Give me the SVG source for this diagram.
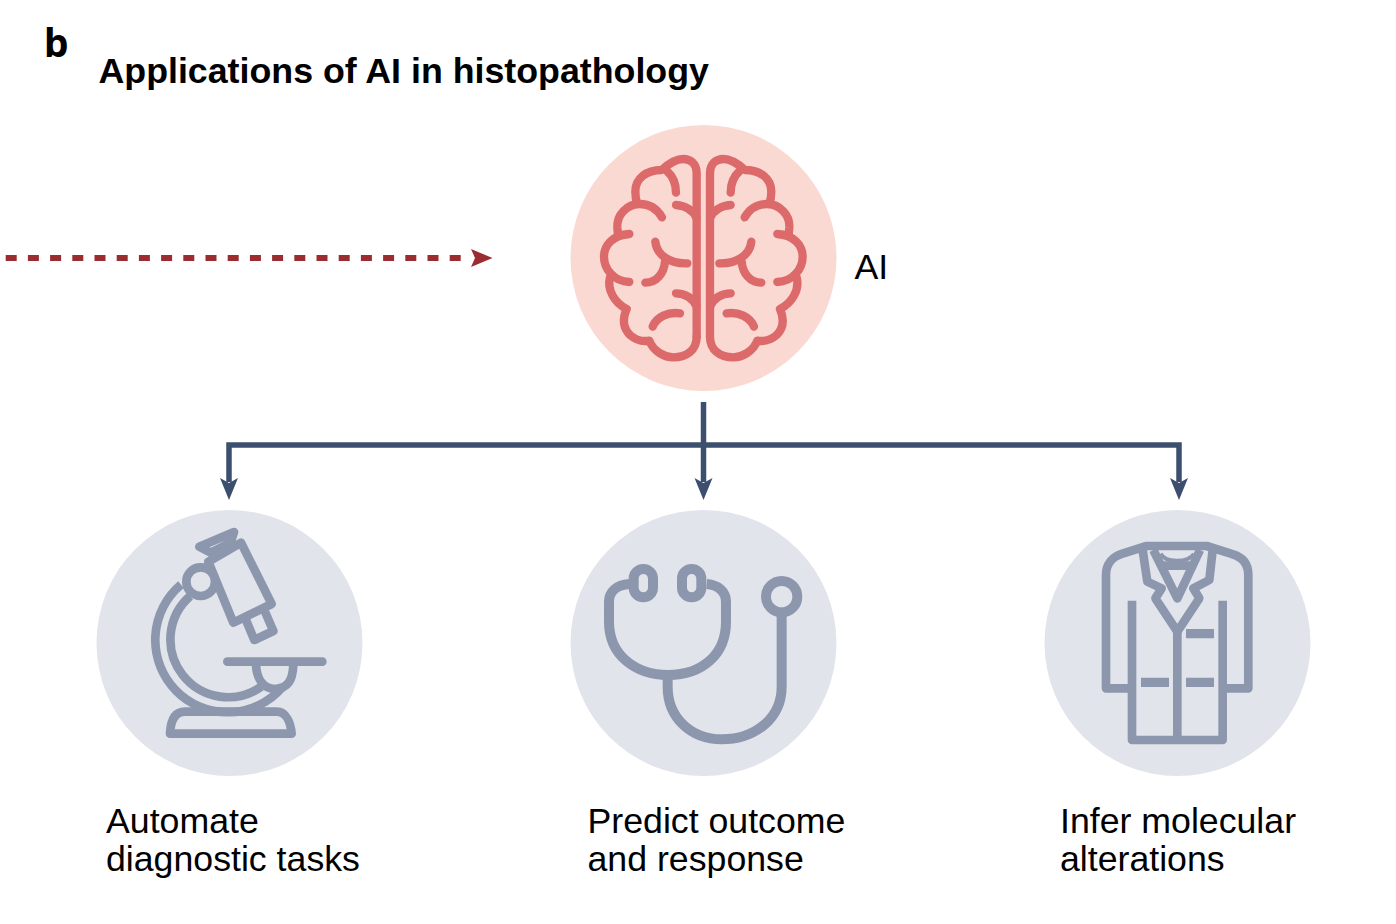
<svg xmlns="http://www.w3.org/2000/svg" width="1396" height="924" viewBox="0 0 1396 924">
<style>
text{font-family:"Liberation Sans",Arial,sans-serif;fill:#000}
.lab{font-size:35.7px}
.ttl{font-size:35.75px;font-weight:700}
.ln{fill:none;stroke:#8c97ae;stroke-width:26;stroke-linejoin:round}
.th{stroke-width:30}
.br{fill:none;stroke:#dc6a6a;stroke-width:25;stroke-linecap:round;stroke-linejoin:round}
.bg{fill:#e1e4eb}
.conn{fill:none;stroke:#3d4f6f;stroke-width:5.5}
</style>
<defs>
<g id="half">
<path class="br" d="M320 590V100C320 70 300 57 280 57C260 57 235 72 215 90C170 90 136 115 136 155C136 170 138 180 142 192"/>
<path class="br" d="M216 232C200 205 175 192 150 192C110 192 80 225 82 262L84 285"/>
<path class="br" d="M118 282C70 285 42 315 42 350C42 385 70 425 118 426"/>
<path class="br" d="M60 412C50 450 75 490 110 507C100 530 95 560 120 585C140 603 160 605 178 602C190 635 225 652 250 652C290 652 320 630 320 590"/>
<path class="br" d="M230 92C250 110 258 130 258 158"/>
<path class="br" d="M258 195C285 197 310 210 320 235"/>
<path class="br" d="M196 305C200 345 240 372 292 370"/>
<path class="br" d="M225 365C222 400 200 428 166 428"/>
<path class="br" d="M258 460C285 460 310 475 320 500"/>
<path class="br" d="M188 560C200 530 235 515 270 520"/>
</g>
</defs>
<text x="44" y="57" style="font-family:'Noto Sans',sans-serif;font-size:39px;font-weight:700">b</text>
<text class="ttl" x="98.500" y="83">Applications of AI in histopathology</text>
<g id="connectors">
<path d="M5.700 258H470" fill="none" stroke="#9b2d30" stroke-width="6" stroke-dasharray="11 11.2"/>
<path d="M471 249L492.500 258L471 267L475 258Z" fill="#9b2d30"/>
<path class="conn" d="M703.500 402V482"/>
<path class="conn" d="M229 482V445H1179V482"/>
<path d="M220 478L229 483L238 478L229 500Z M694.500 478L703.500 483L712.500 478L703.500 500Z M1170 478L1179 483L1188 478L1179 500Z" fill="#3d4f6f"/>
</g>
<g id="node-ai">
<circle cx="703.500" cy="258" r="133" fill="#fbd9d3"/>
<g transform="translate(590 140) scale(.3333)"><use href="#half"/><use href="#half" transform="translate(680 0) scale(-1 1)"/></g>
<text class="lab" x="854.500" y="278.500">AI</text>
</g>
<g id="node-automate">
<circle class="bg" cx="229.500" cy="643" r="133"/>
<g transform="translate(140 520) scale(.3333)">
<path class="ln" d="M123 194A217 217 0 1 0 426 503"/>
<path class="ln" d="M150.400 228.400A173 173 0 0 0 364 500"/>
<circle class="ln" cx="182" cy="185" r="43"/>
<path class="ln" d="M205 125L303 68L395 252L280 308Z"/>
<path class="ln" d="M178 80L282 36L272 68L212 98Z"/>
<path class="ln" d="M318 300L343 360L400 333L375 275"/>
<path d="M262 425H547" fill="none" stroke="#8c97ae" stroke-width="26" stroke-linecap="round"/>
<path class="ln" d="M348 435C350 470 365 505 405 507C445 505 458 480 460 435"/>
<path class="ln" d="M90 641C92 600 105 575 135 575H410C440 575 452 610 455 641Z"/>
</g>
<text class="lab"><tspan x="106" y="833">Automate</tspan><tspan x="106" y="871">diagnostic tasks</tspan></text>
</g>
<g id="node-predict">
<circle class="bg" cx="703.500" cy="643" r="133"/>
<g transform="translate(595 555) scale(.3333)">
<path class="ln th" d="M103 87C65 90 42 110 42 140V200C42 300 120 360 220 360C320 360 393 300 393 200V140C393 110 370 90 335 87"/>
<rect class="ln th" x="116" y="42" width="58" height="85" rx="29"/>
<rect class="ln th" x="261" y="42" width="58" height="85" rx="29"/>
<path class="ln th" d="M218 360V395C218 490 290 553 380 553C480 553 560 490 560 395V180"/>
<circle class="ln th" cx="560" cy="125" r="47"/>
</g>
<text class="lab"><tspan x="587.500" y="833">Predict outcome</tspan><tspan x="587.500" y="871">and response</tspan></text>
</g>
<g id="node-infer">
<circle class="bg" cx="1177.500" cy="643" r="133"/>
<g transform="translate(1090 535) scale(.3333)">
<path class="ln" d="M126 460H48V120C48 85 70 65 95 57L170 33H350L425 57C455 65 475 85 475 120V460H398"/>
<path class="ln" d="M126 197V615H398V197"/>
<path class="ln" d="M262 275V610"/>
<path class="ln" d="M158 45L172 140L215 160L196 190L262 290L328 190L310 160L358 135L368 45"/>
<path class="ln" d="M190 45L262 190L330 45"/>
<path class="ln" d="M212 92H312"/>
<path class="ln" style="stroke-width:12" d="M212 56C225 84 295 84 312 56"/>
<path d="M288 282h84v28h-84zM153 428h84v28h-84zM288 428h84v28h-84z" fill="#8c97ae"/>
</g>
<text class="lab"><tspan x="1060" y="833">Infer molecular</tspan><tspan x="1060" y="871">alterations</tspan></text>
</g>
</svg>
